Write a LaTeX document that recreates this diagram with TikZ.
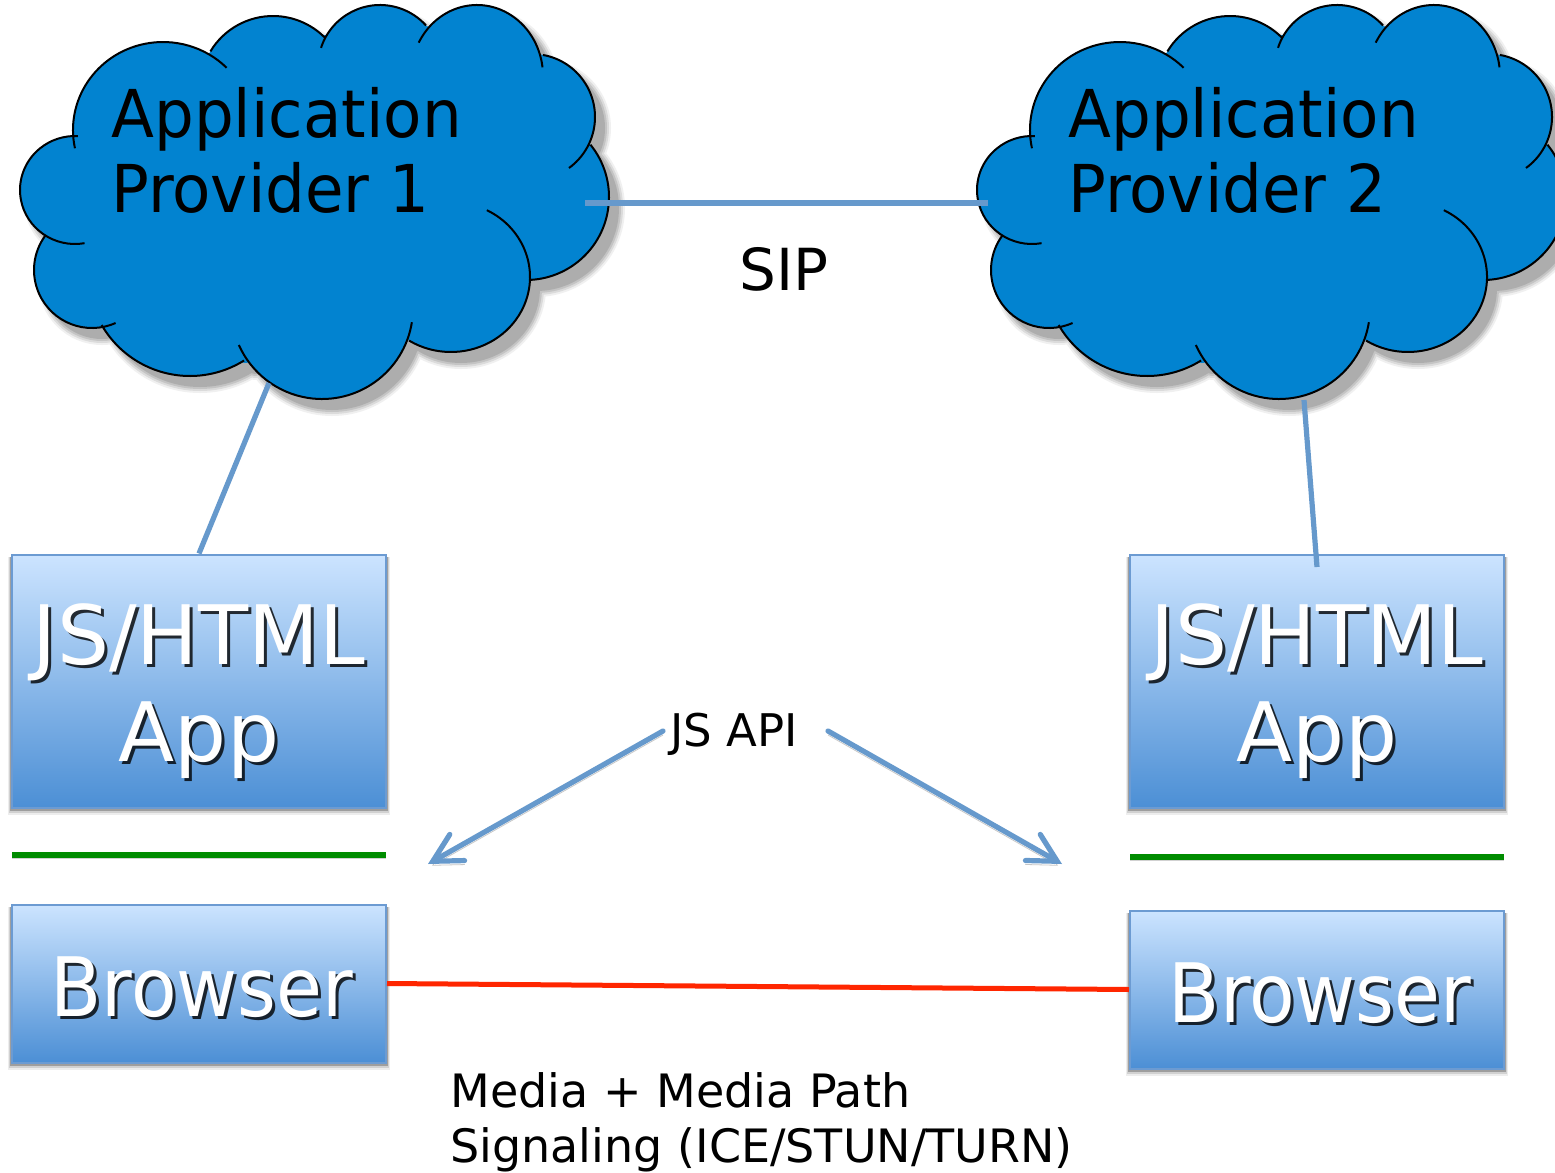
\documentclass[tikz,border=0pt]{standalone}
\usepackage{fontspec}
\setmainfont{DejaVu Sans}
\usetikzlibrary{arrows.meta}
\definecolor{cloudblue}{RGB}{2,131,208}
\definecolor{linkblue}{RGB}{102,153,204}
\definecolor{boxtop}{RGB}{204,228,255}
\definecolor{boxbot}{RGB}{76,143,213}
\definecolor{boxline}{RGB}{108,155,210}
\definecolor{greenline}{RGB}{0,140,0}
\definecolor{redline}{RGB}{255,38,0}
% one lobe of the cloud: centre x, centre y, rx, ry (pixels), start and end angle
\newcommand{\lobearc}[6]{(#1,#2) ++(#5:#3*0.5pt and #4*0.5pt) arc[start angle=#5,end angle=#6,x radius=#3*0.5pt,y radius=#4*0.5pt]}
\newcommand{\lobefull}[4]{(#1,#2) ellipse[x radius=#3*0.5pt,y radius=#4*0.5pt]}
\newcommand{\cloudmass}{
 \lobefull{163}{130}{90}{88} \lobefull{273}{89}{73}{73} \lobefull{380}{67}{62}{62}
 \lobefull{477}{76}{66}{71} \lobefull{532}{117}{63}{63} \lobefull{526}{197}{83}{83}
 \lobefull{451}{277}{79}{75} \lobefull{322}{308}{91}{91} \lobefull{190}{274}{102}{102}
 \lobefull{92}{270}{58}{58} \lobefull{75}{190}{55}{54}
 (75,136) -- (49,237) -- (100,327) -- (245,363) -- (409,340) -- (529,280) -- (590,145)
 -- (543,55) -- (426,26) -- (326,35) -- (211,52) -- cycle}
\newcommand{\drawcloud}{
 \begin{scope}[shift={(10,11)},line join=round]
  \filldraw[black!6,line width=6pt] \cloudmass;
  \filldraw[black!14,line width=4pt] \cloudmass;
  \filldraw[black!23,line width=2pt] \cloudmass;
  \fill[black!32] \cloudmass;
 \end{scope}
 \fill[cloudblue] \cloudmass;
 \draw[black,line width=1pt]
  \lobearc{163}{130}{90}{88}{192}{45}
  \lobearc{273}{89}{73}{73}{149}{45}
  \lobearc{380}{67}{62}{62}{162}{42}
  \lobearc{477}{76}{66}{71}{152}{7}
  \lobearc{532}{117}{63}{63}{80}{-54}
  \lobearc{526}{197}{83}{83}{39}{-88}
  \lobearc{451}{277}{79}{75}{63}{-122}
  \lobearc{322}{308}{91}{91}{-9}{-156}
  \lobearc{190}{274}{102}{102}{-58}{-150}
  \lobearc{92}{270}{58}{58}{-66}{-217}
  \lobearc{75}{190}{55}{54}{-80}{-273};
}
\newcommand{\boxshadow}[4]{
 \fill[black!7] (#1-3,#2+3) rectangle (#3+3,#4+7);
 \fill[black!18] (#1-2,#2+3) rectangle (#3+2,#4+5);
 \fill[black!38] (#1-1,#2+3) rectangle (#3+1,#4+3);
}
\tikzset{
 x=0.5pt,y=-0.5pt,
 cloudlabel/.style={anchor=base west,align=left,inner sep=0pt,xscale=.95,font=\fontsize{33}{37.5}\selectfont},
 appbox/.style={draw=boxline,line width=1pt,top color=boxtop,bottom color=boxbot,minimum width=187pt,inner sep=0pt},
 glowtext/.style={anchor=center,align=center,inner sep=0pt,text=white,font=\fontsize{41}{48.5}\selectfont},
 shadetext/.style={glowtext,text=black,text opacity=0.8},
 lnk/.style={draw=linkblue,line width=2.6pt},
 softshadow/.style={preaction={draw=black!22,transform canvas={yshift=-2pt}}},
 divider/.style={line width=2.8pt,draw=greenline,preaction={draw=black!18,transform canvas={yshift=-1.5pt}}},
 plainlabel/.style={inner sep=0pt,anchor=base},
 apiarrow/.style={lnk,softshadow,line cap=round,-{Straight Barb[length=14pt,width=15pt,line cap=round]}},
}
\begin{document}
\begin{tikzpicture}
\useasboundingbox (0,0) rectangle (1555,1173);
\fill[white] (0,0) rectangle (1555,1173);
% clouds
\drawcloud
\begin{scope}[xshift=478.5pt]\drawcloud\end{scope}
\node[cloudlabel] (prov1) at (111,212) {Application\\Provider 1};
\node[cloudlabel] (prov2) at (1068,212) {Application\\Provider 2};
% box shadows
\boxshadow{11}{554}{387}{808}
\boxshadow{11}{904}{387}{1063}
\boxshadow{1129}{554}{1505}{808}
\boxshadow{1129}{910}{1505}{1069}
% boxes
\node[appbox,minimum height=126.5pt] (appL) at (199,681) {};
\node[appbox,minimum height=79pt] (brL) at (199,983.5) {};
\node[appbox,minimum height=126.5pt] (appR) at (1317,681) {};
\node[appbox,minimum height=79pt] (brR) at (1317,989.5) {};
% box text, each with its drop shadow
\node[shadetext] (sappL) at (202,694) {JS/HTML\\App};
\node[glowtext] (tappL) at (199,691) {JS/HTML\\App};
\node[shadetext] (sappR) at (1320,694) {JS/HTML\\App};
\node[glowtext] (tappR) at (1317,691) {JS/HTML\\App};
\node[shadetext,xscale=.91] (sbrL) at (205,990) {Browser};
\node[glowtext,xscale=.91] (tbrL) at (202,987) {Browser};
\node[shadetext,xscale=.91] (sbrR) at (1323,996) {Browser};
\node[glowtext,xscale=.91] (tbrR) at (1320,993) {Browser};
% free ends
\coordinate (sipA) at (585,203);
\coordinate (sipB) at (988,203);
\coordinate (cloudL) at (269,383);
\coordinate (cloudR) at (1304,400);
\coordinate (boxR) at (1317,567);
\coordinate (apiLs) at (663,731);
\coordinate (apiLe) at (428,864);
\coordinate (apiRs) at (828,731);
\coordinate (apiRe) at (1062,864);
\coordinate (gLa) at (12,855);
\coordinate (gLb) at (386,855);
\coordinate (gRa) at (1130,857);
\coordinate (gRb) at (1504,857);
% connectors
\draw[lnk] (sipA) -- (sipB);
\draw[lnk] (cloudL) -- (appL.north);
\draw[lnk] (cloudR) -- (boxR);
\draw[divider] (gLa) -- (gLb);
\draw[divider] (gRa) -- (gRb);
\draw[draw=redline,line width=2.5pt] (brL.east) -- (brR.west);
\draw[apiarrow] (apiLs) -- (apiLe);
\draw[apiarrow] (apiRs) -- (apiRe);
% labels
\node[plainlabel,font=\fontsize{29}{34}\selectfont] (sip) at (784,290) {SIP};
\node[plainlabel,font=\fontsize{22.5}{27}\selectfont] (api) at (734,746) {JS API};
\node[anchor=base west,align=left,inner sep=0pt,font=\fontsize{23}{27.5}\selectfont] (media) at (450,1162) {Media + Media Path\\Signaling (ICE/STUN/TURN)};
\end{tikzpicture}
\end{document}
